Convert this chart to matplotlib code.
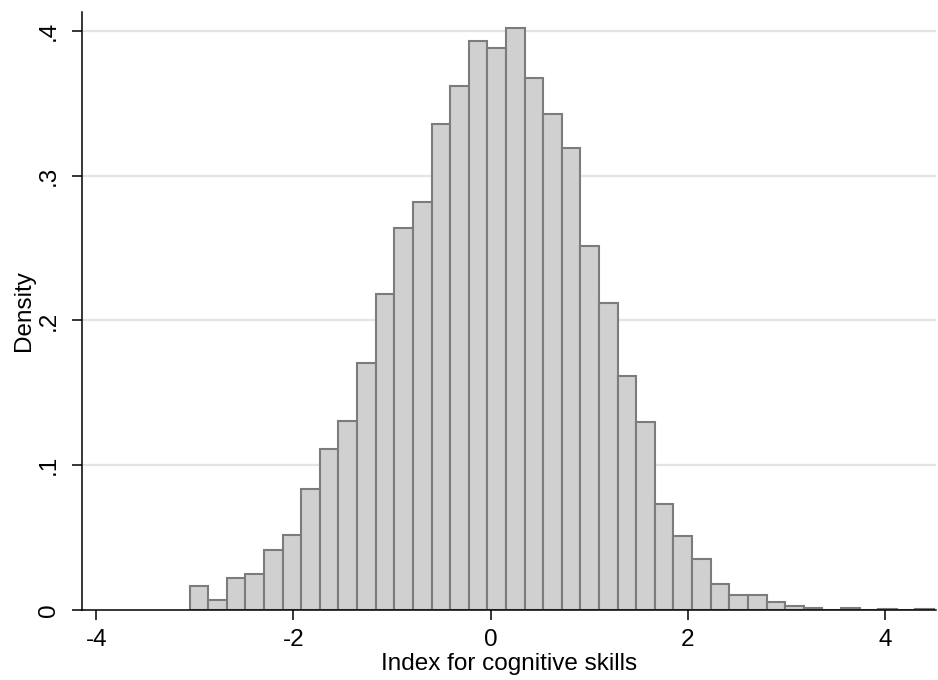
import numpy as np
import matplotlib
matplotlib.use("Agg")
import matplotlib.pyplot as plt

# histogram of the cognitive skills index (40 bins)
bin_start = -3.054
bin_width = 0.18875
density = [0.0162, 0.0068, 0.0222, 0.0250, 0.0411, 0.0517, 0.0833, 0.1109,
           0.1303, 0.1703, 0.2182, 0.2636, 0.2820, 0.3357, 0.3618, 0.3929,
           0.3880, 0.4019, 0.3677, 0.3428, 0.3191, 0.2514, 0.2118, 0.1618,
           0.1296, 0.0733, 0.0510, 0.0351, 0.0178, 0.0104, 0.0104, 0.0052,
           0.0024, 0.0010, 0.0, 0.0010, 0.0, 0.0006, 0.0, 0.0006]

x_ticks = [-4, -2, 0, 2, 4]
y_ticks = [0, 0.1, 0.2, 0.3, 0.4]
y_labels = ["0", ".1", ".2", ".3", ".4"]

plt.rcParams['font.family'] = ['Liberation Sans', 'DejaVu Sans']

fig = plt.figure(figsize=(9.38, 6.8), dpi=100)
ax = fig.add_axes([0.0874, 0.1032, 0.9105, 0.8792])

lefts = bin_start + bin_width * np.arange(len(density))
ax.bar(lefts, density, width=bin_width, align='edge',
       color='#d0d0d0', edgecolor='#7c7c7c', linewidth=1.5, zorder=2)

ax.set_xlim(-4.145, 4.516)
ax.set_ylim(0, 0.4131)

ax.set_xticks(x_ticks)
ax.set_xticklabels([str(t) for t in x_ticks])
ax.set_yticks(y_ticks)
ax.set_yticklabels(y_labels, rotation=90, va='center')

for y in y_ticks[1:]:
    ax.axhline(y, color='#e3e3e3', linewidth=1.6, zorder=1)

for side in ['top', 'right']:
    ax.spines[side].set_visible(False)
for side in ['left', 'bottom']:
    ax.spines[side].set_linewidth(1.1)
    ax.spines[side].set_zorder(5)

ax.tick_params(axis='both', direction='out', length=7, width=1.1,
               labelsize=17.5)
ax.tick_params(axis='x', pad=7)
ax.tick_params(axis='y', pad=9)
ax.set_xlabel("Index for cognitive skills", fontsize=17.5, labelpad=1)
ax.set_ylabel("Density", fontsize=17.5, labelpad=2)

fig.savefig("out.png", dpi=100)
